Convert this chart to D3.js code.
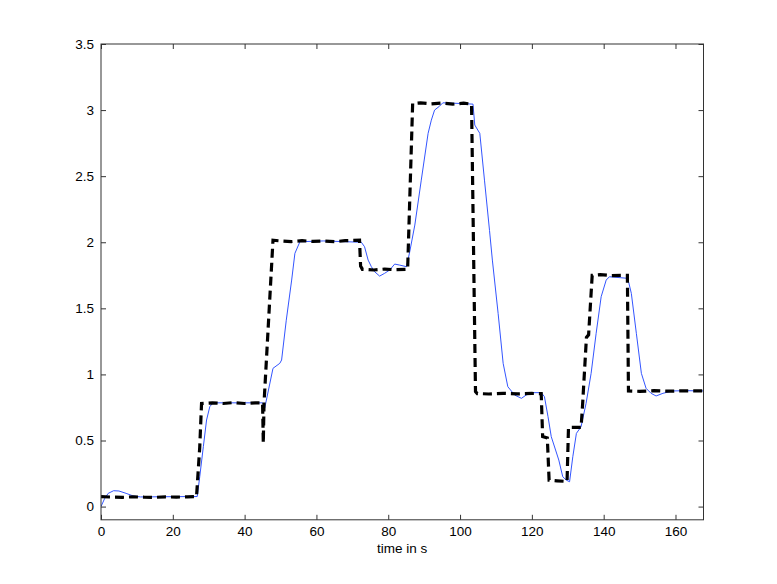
<!DOCTYPE html>
<html><head><meta charset="utf-8">
<script src="https://cdn.jsdelivr.net/npm/d3@7"></script>
<style>body{margin:0;background:#fff}svg{display:block}text{font-family:"Liberation Sans",Arial,sans-serif}</style>
</head><body>
<svg id="c" width="777" height="584"></svg>
<script>
const xTicks = [0,20,40,60,80,100,120,140,160];
const yTicks = [0,0.5,1,1.5,2,2.5,3,3.5];
const xLabel = "time in s";

// reference (black dashed)
const refTime  = [0,3,6,9,12,15,18,21,24,26.6,27.5,28,31,34,37,40,43,45.0,45.2,45.4,47.9,50,53,56,59,62,65,68,72,72.3,72.8,76,79,82,85.4,86.8,89,92,95,98,101,103.2,104.3,104.8,108,112,116,120,122.6,123.0,124.3,124.8,127,129.8,130.2,133.7,134.1,135.2,135.8,136.8,139,142,146.6,146.9,150,154,158,162,168];
const refValue = [0.075,0.072,0.07,0.074,0.071,0.07,0.073,0.072,0.074,0.075,0.45,0.78,0.785,0.78,0.787,0.78,0.784,0.785,0.48,0.78,2.015,2.01,2.005,2.012,2.006,2.01,2.004,2.012,2.015,1.82,1.795,1.79,1.797,1.792,1.795,3.05,3.055,3.047,3.053,3.045,3.052,3.045,0.87,0.855,0.852,0.857,0.853,0.856,0.855,0.53,0.52,0.2,0.195,0.19,0.6,0.6,0.76,1.28,1.3,1.75,1.755,1.748,1.75,0.875,0.872,0.877,0.873,0.876,0.875];

// system output (blue)
const outTime  = [0,1,2,3.5,5,7,9,11,20,26.8,27.5,28.5,29.4,30.3,31.2,35,45,45.6,47.9,49.8,50.3,51.6,53.1,54,55.4,62,72.5,73.4,74.4,75.3,76.2,77.6,79,80.4,81.8,83.2,85.1,86,87.4,89.2,91.1,92,92.9,94.3,95.2,100,103.6,104.1,105.5,106.8,108.2,109,110.6,112,113.3,115.2,117.1,118.4,120.3,122.6,123.5,124.5,125.4,126.6,127.5,128.6,129.6,130.5,131.4,132.4,133.7,135.1,136.5,137.9,139.3,140.7,141.6,146.7,147.7,149.1,150.5,151.8,153.2,154.6,156.5,159.2,163,168];
const outValue = [0,0.06,0.1,0.12,0.118,0.1,0.08,0.073,0.075,0.076,0.226,0.453,0.655,0.756,0.785,0.785,0.785,0.746,1.046,1.084,1.109,1.41,1.714,1.916,2.004,2.01,2.0,1.966,1.865,1.815,1.777,1.744,1.765,1.79,1.835,1.827,1.815,1.93,2.13,2.47,2.824,2.924,3.0,3.03,3.055,3.05,3.045,2.887,2.824,2.47,2.09,1.865,1.462,1.084,0.907,0.844,0.819,0.844,0.862,0.862,0.832,0.68,0.529,0.428,0.352,0.226,0.2,0.188,0.377,0.554,0.604,0.781,1.008,1.311,1.588,1.714,1.739,1.727,1.613,1.311,1.008,0.895,0.857,0.837,0.857,0.875,0.877,0.875];

const L=101, R=703.5, T=44, B=519.8;
const svg = d3.select("#c");
const x = d3.scaleLinear().domain([0,167.8]).range([L,R]);
const y = d3.scaleLinear().domain([-0.1,3.5]).range([B,T]);

svg.append("defs").append("clipPath").attr("id","pc").append("rect")
  .attr("x",L).attr("y",T).attr("width",R-L).attr("height",B-T);

const line = d3.line().x(d=>x(d[0])).y(d=>y(d[1]));
const ref = refTime.map((t,i)=>[t,refValue[i]]);
const out = outTime.map((t,i)=>[t,outValue[i]]);

const g = svg.append("g").attr("clip-path","url(#pc)");
g.append("path").datum(out).attr("d",line).attr("fill","none")
  .attr("stroke","#3355ff").attr("stroke-width",1);
g.append("path").datum(ref).attr("d",line).attr("fill","none")
  .attr("stroke","#000").attr("stroke-width",3.2).attr("stroke-dasharray","9,5");

// axes: ticks inside, box
const ax = "#333";
const fs = 13.5;
const axB = d3.axisBottom(x).tickValues(xTicks).tickSizeInner(-5).tickSizeOuter(0).tickPadding(7).tickFormat(d3.format("d"));
const axT = d3.axisTop(x).tickValues(xTicks).tickSizeInner(-5).tickSizeOuter(0).tickFormat("");
const axL = d3.axisLeft(y).tickValues(yTicks).tickSizeInner(-5).tickSizeOuter(0).tickPadding(7).tickFormat(d=>String(d));
const axR = d3.axisRight(y).tickValues(yTicks).tickSizeInner(-5).tickSizeOuter(0).tickFormat("");

function style(sel){
  sel.select(".domain").remove();
  sel.selectAll("line").attr("stroke",ax);
  sel.selectAll("text").attr("fill","#000").attr("font-size",fs);
}
svg.append("g").attr("transform",`translate(0,${B})`).call(axB).call(style);
svg.append("g").attr("transform",`translate(0,${T})`).call(axT).call(style);
svg.append("g").attr("transform",`translate(${L},0)`).call(axL).call(style);
svg.append("g").attr("transform",`translate(${R},0)`).call(axR).call(style);
svg.append("rect").attr("x",L).attr("y",T).attr("width",R-L).attr("height",B-T)
  .attr("fill","none").attr("stroke",ax).attr("stroke-width",1);

svg.append("text").attr("x",(L+R)/2).attr("y",553).attr("text-anchor","middle")
  .attr("font-size",fs).attr("fill","#000").text(xLabel);
</script>
</body></html>
